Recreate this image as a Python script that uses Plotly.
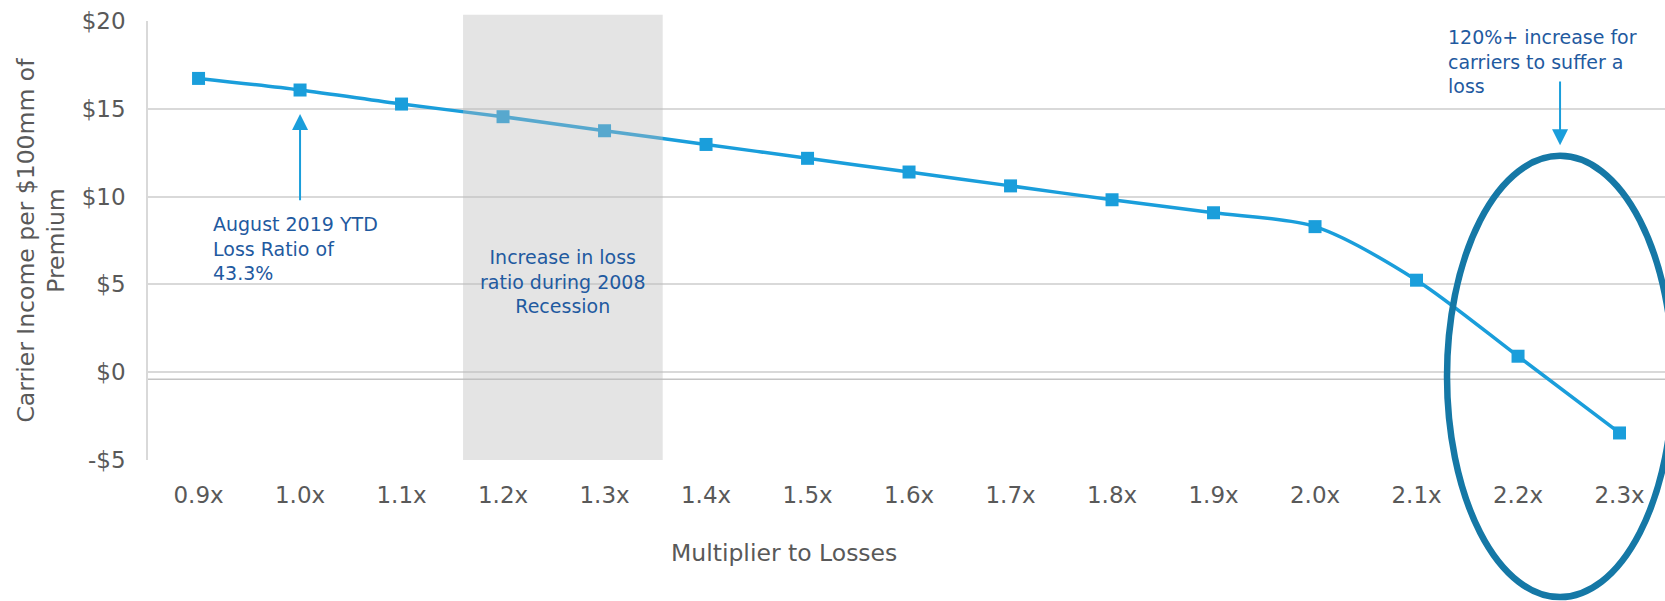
import plotly.graph_objects as go

# Loss multiplier scenarios and resulting carrier income ($ per $100mm of premium)
multipliers = [0.9, 1.0, 1.1, 1.2, 1.3, 1.4, 1.5, 1.6, 1.7, 1.8, 1.9, 2.0, 2.1, 2.2, 2.3]
multiplier_labels = ["0.9x", "1.0x", "1.1x", "1.2x", "1.3x", "1.4x", "1.5x", "1.6x",
                     "1.7x", "1.8x", "1.9x", "2.0x", "2.1x", "2.2x", "2.3x"]
carrier_income = [16.73, 16.07, 15.27, 14.55, 13.75, 12.97, 12.18, 11.40,
                  10.61, 9.82, 9.08, 8.29, 5.24, 0.91, -3.46]

y_tick_vals = [-5, 0, 5, 10, 15, 20]
y_tick_text = ["-$5", "$0", "$5", "$10", "$15", "$20"]

# 2008 recession loss-ratio band (in multiplier units)
recession_band = [1.1606, 1.3573]
break_even_line = -0.4

LINE_BLUE = "#1A9EDB"
TEXT_BLUE = "#1F5AA0"
RING_BLUE = "#1578A6"
AXIS_GREY = "#595959"
GRID_GREY = "#D9D9D9"
FONT = "DejaVu Sans"

fig = go.Figure()

fig.add_trace(go.Scatter(
    x=multipliers,
    y=carrier_income,
    mode="lines+markers",
    line=dict(color=LINE_BLUE, width=3.5, shape="spline", smoothing=0.8),
    marker=dict(symbol="square", size=13, color=LINE_BLUE),
    hoverinfo="skip",
    showlegend=False,
))

shapes = [
    # secondary horizontal reference just under zero
    dict(type="line", xref="paper", x0=0, x1=1, yref="y",
         y0=break_even_line, y1=break_even_line,
         line=dict(color="#C4C4C4", width=1.5), layer="below"),
    # translucent recession band over the series
    dict(type="rect", xref="x", x0=recession_band[0], x1=recession_band[1],
         yref="paper", y0=0, y1=1.0143,
         fillcolor="rgba(186,186,186,0.39)", line=dict(width=0), layer="above"),
    # ring around the loss region
    dict(type="circle", xref="paper", yref="paper",
         x0=0.8563, x1=1.0053, y0=-0.3123, y1=0.6929,
         line=dict(color=RING_BLUE, width=6.5), fillcolor="rgba(0,0,0,0)",
         layer="above"),
]

annotations = [
    dict(text="August 2019 YTD<br>Loss Ratio of<br>43.3%",
         x=0.9123, y=7.07, xref="x", yref="y", xanchor="left", yanchor="middle",
         align="left", showarrow=False,
         font=dict(family=FONT, size=19, color=TEXT_BLUE)),
    dict(text="", x=1.0, y=14.7, ax=1.0, ay=9.70, xref="x", yref="y",
         axref="x", ayref="y", showarrow=True, arrowhead=2, arrowsize=1.6,
         arrowwidth=2, arrowcolor=LINE_BLUE),
    dict(text="Increase in loss<br>ratio during 2008<br>Recession",
         x=1.2594, y=5.19, xref="x", yref="y", xanchor="center", yanchor="middle",
         align="center", showarrow=False,
         font=dict(family=FONT, size=19, color=TEXT_BLUE)),
    dict(text="120%+ increase for<br>carriers to suffer a<br>loss",
         x=2.1288, y=17.70, xref="x", yref="y", xanchor="left", yanchor="middle",
         align="left", showarrow=False,
         font=dict(family=FONT, size=19, color=TEXT_BLUE)),
    dict(text="", x=2.2414, y=12.93, ax=2.2414, ay=16.64, xref="x", yref="y",
         axref="x", ayref="y", showarrow=True, arrowhead=2, arrowsize=1.6,
         arrowwidth=2, arrowcolor=LINE_BLUE),
    # axis titles
    dict(text="Carrier Income per $100mm of<br>Premium",
         x=-0.0705, y=0.5, xref="paper", yref="paper", textangle=-90,
         xanchor="center", yanchor="middle", showarrow=False,
         font=dict(family=FONT, size=23.5, color=AXIS_GREY)),
    dict(text="Multiplier to Losses",
         x=0.419, y=-0.212, xref="paper", yref="paper",
         xanchor="center", yanchor="middle", showarrow=False,
         font=dict(family=FONT, size=23.5, color=AXIS_GREY)),
]

fig.update_layout(
    width=1665, height=601, autosize=False,
    margin=dict(l=148, r=0, t=21, b=141, pad=0),
    paper_bgcolor="white", plot_bgcolor="white",
    font=dict(family=FONT, color=AXIS_GREY),
    shapes=shapes,
    annotations=annotations,
    xaxis=dict(
        range=[0.8502, 2.3448],
        tickvals=multipliers, ticktext=multiplier_labels,
        showgrid=False, zeroline=False, showline=False, ticks="",
        ticklabelstandoff=19,
        tickfont=dict(family=FONT, size=23, color=AXIS_GREY),
        fixedrange=True,
    ),
    yaxis=dict(
        range=[-5, 20],
        tickvals=y_tick_vals, ticktext=y_tick_text,
        showgrid=True, gridcolor=GRID_GREY, gridwidth=1.5,
        zeroline=False, showline=True, linecolor=GRID_GREY, linewidth=1.5,
        ticks="", ticklabelstandoff=16,
        tickfont=dict(family=FONT, size=23, color=AXIS_GREY),
        fixedrange=True,
    ),
)

fig.write_html("out.html")
